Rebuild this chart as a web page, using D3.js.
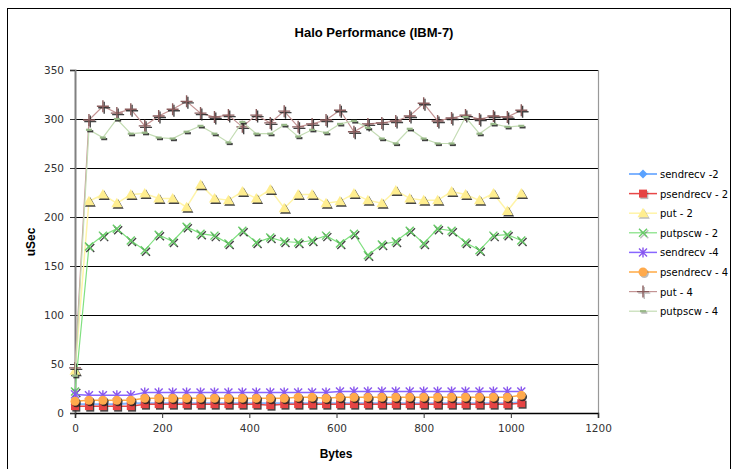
<!DOCTYPE html>
<html><head><meta charset="utf-8">
<script src="https://cdn.jsdelivr.net/npm/d3@7/dist/d3.min.js"></script>
<style>body{margin:0;background:#fff}svg{display:block}</style>
</head><body><svg id="c" width="740" height="469"></svg>
<script>
const bytes = [0,32,64,96,128,160,192,224,256,288,320,352,384,416,448,480,512,544,576,608,640,672,704,736,768,800,832,864,896,928,960,992,1024];
const sendrecv2  = [9,9,9,9,10,10,10,10,10,10,10,10,10,10,10,10,10,10,10,10,10,10,10,10,10,10,10,10,10,10,10,10,11];
const psendrecv2 = [7,7,7,7,7,9,9,9,9,9,9,9,9,9,8,9,9,9,9,9,9,9,9,9,9,9,9,9,9,9,9,9,10];
const put2       = [43,216,223,214,223,224,219,219,210,233,219,217,226,219,228,209,223,223,214,216,224,217,214,227,219,217,217,226,223,217,224,206,224];
const putpscw2   = [22,170,181,188,176,166,182,175,190,183,181,173,186,174,179,175,174,176,181,173,183,161,172,175,186,173,188,186,174,166,181,182,176];
const sendrecv4  = [19,18,18,18,18,21,21,21,21,21,21,21,21,21,21,21,21,21,21,22,22,22,22,22,22,22,22,22,22,22,22,22,22];
const psendrecv4 = [12,13,13,13,13,15,15,15,15,15,15,15,15,15,15,15,16,16,15,16,16,16,16,16,16,16,16,16,16,16,16,16,18];
const put4       = [46,299,313,306,310,293,303,310,318,306,302,304,292,304,296,308,292,295,299,309,287,295,296,298,303,316,298,301,304,300,303,302,309];
const putpscw4   = [38,289,281,300,285,286,281,280,287,293,285,276,297,285,285,294,282,289,286,295,298,291,280,275,290,280,275,275,302,285,295,292,293];
const seriesNames = ["sendrecv -2","psendrecv - 2","put - 2","putpscw - 2","sendrecv -4","psendrecv - 4","put - 4","putpscw - 4"];
const yTicks = [0,50,100,150,200,250,300,350];
const xTicks = [0,200,400,600,800,1000,1200];

const seriesData = [sendrecv2, psendrecv2, put2, putpscw2, sendrecv4, psendrecv4, put4, putpscw4];
const styles = [
  {line:"#80b4ff", fill:"#5aa2ff", stroke:"none", shape:"diamond", shadow:false, lw:2},
  {line:"#e84848", fill:"#e64444", stroke:"none", shape:"square", shadow:true, lw:1.5},
  {line:"#fff4a8", fill:"#ffee90", stroke:"none", shape:"triangle", shadow:true, lw:1.5},
  {line:"#80e080", fill:"none", stroke:"#66cc66", shape:"x", shadow:true, lw:1.2},
  {line:"#8866ff", fill:"none", stroke:"#8855ee", shape:"asterisk", shadow:false, lw:1.5},
  {line:"#ffaa44", fill:"#ffaa4c", stroke:"none", shape:"circle", shadow:true, lw:1.5},
  {line:"#c49494", fill:"none", stroke:"#8a5c5c", shape:"plus", shadow:true, lw:1.2},
  {line:"#c4dcb4", fill:"none", stroke:"#98b888", shape:"dash", shadow:true, lw:1.2}
];
const shapes = {
  diamond:"M0,-4.5L4.5,0L0,4.5L-4.5,0Z",
  square:"M-4,-4H4V4H-4Z",
  triangle:"M0,-5.5L5.5,4L-5.5,4Z",
  x:"M-4,-4L4,4M-4,4L4,-4",
  asterisk:"M-4,-4L4,4M-4,4L4,-4M0,-5L0,5",
  circle:"M4.5,0A4.5,4.5 0 1,1 -4.5,0A4.5,4.5 0 1,1 4.5,0Z",
  plus:"M-6,0H6M0,-6V6",
  dash:"M-3,0H3"
};

const svg = d3.select("#c");
const L=75, R=598, T=70, B=413;
const x = d3.scaleLinear().domain([0,1200]).range([L,R]);
const y = d3.scaleLinear().domain([0,350]).range([B,T]);

svg.append("rect").attr("x",7.5).attr("y",8.5).attr("width",723).attr("height",470)
  .attr("fill","#fff").attr("stroke","#000").attr("stroke-width",1);

// gridlines
svg.append("g").selectAll("line").data(yTicks.filter(d=>d>0)).join("line")
  .attr("x1",L).attr("x2",R).attr("y1",d=>Math.round(y(d))+0.5).attr("y2",d=>Math.round(y(d))+0.5)
  .attr("stroke","#000").attr("stroke-width",1);
// right border
svg.append("line").attr("x1",R+0.5).attr("x2",R+0.5).attr("y1",T).attr("y2",B).attr("stroke","#999").attr("stroke-width",1.2);

// axes
const yAxis = d3.axisLeft(y).tickValues(yTicks).tickSize(5).tickPadding(6).tickFormat(d3.format("d"));
const gy = svg.append("g").attr("transform",`translate(${L},0)`).call(yAxis);
gy.select(".domain").attr("stroke","#808080").attr("stroke-width",2);
gy.selectAll(".tick line").attr("stroke","#333");
gy.selectAll("text").attr("font-family","DejaVu Sans").attr("font-size","10.5px").attr("fill","#333");

const xAxis = d3.axisBottom(x).tickValues(xTicks).tickSize(5).tickPadding(7).tickFormat(d3.format("d"));
const gx = svg.append("g").attr("transform",`translate(0,${B})`).call(xAxis);
gx.select(".domain").attr("stroke","#000").attr("stroke-width",1.5);
gx.selectAll(".tick line").attr("stroke","#333");
gx.selectAll("text").attr("font-family","DejaVu Sans").attr("font-size","10.5px").attr("fill","#333");

// series
const lineGen = d3.line().x((d,i)=>x(bytes[i])).y(d=>y(d));
seriesData.forEach((vals,si)=>{
  const st = styles[si];
  const g = svg.append("g");
  g.append("path").attr("d",lineGen(vals)).attr("fill","none").attr("stroke",st.line).attr("stroke-width",st.lw);
  const isStroke = st.fill==="none";
  if(st.shadow){
    g.append("g").selectAll("path").data(vals).join("path")
      .attr("transform",(d,i)=>`translate(${x(bytes[i])+1.3},${y(d)+1.5})`)
      .attr("d",shapes[st.shape])
      .attr("fill",isStroke?"none":"#222").attr("stroke",isStroke?"#222":"none")
      .attr("stroke-width",st.shape==="dash"?2.2:1.4).attr("opacity",0.85);
  }
  g.append("g").selectAll("path").data(vals).join("path")
    .attr("transform",(d,i)=>`translate(${x(bytes[i])},${y(d)})`)
    .attr("d",shapes[st.shape])
    .attr("fill",st.fill).attr("stroke",st.stroke)
    .attr("stroke-width",st.shape==="dash"?2.2:1.4);
});

// title & axis titles
svg.append("text").attr("x",374).attr("y",37).attr("text-anchor","middle")
  .attr("font-family","Liberation Sans, Arial").attr("font-weight","bold").attr("font-size","13px").text("Halo Performance (IBM-7)");
svg.append("text").attr("transform","translate(35,242) rotate(-90)").attr("text-anchor","middle")
  .attr("font-family","Liberation Sans, Arial").attr("font-weight","bold").attr("font-size","12px").text("uSec");
svg.append("text").attr("x",336).attr("y",458).attr("text-anchor","middle")
  .attr("font-family","Liberation Sans, Arial").attr("font-weight","bold").attr("font-size","12px").text("Bytes");

// legend
const lg = svg.append("g");
seriesNames.forEach((name,i)=>{
  const st = styles[i];
  const yy = 174 + i*19.6;
  lg.append("line").attr("x1",629).attr("x2",657).attr("y1",yy).attr("y2",yy).attr("stroke",st.line).attr("stroke-width",st.lw);
  const isStroke = st.fill==="none";
  if(st.shadow){
    lg.append("path").attr("transform",`translate(${643+1.3},${yy+1.5})`).attr("d",shapes[st.shape])
      .attr("fill",isStroke?"none":"#222").attr("stroke",isStroke?"#222":"none").attr("stroke-width",st.shape==="dash"?2.2:1.4).attr("opacity",0.3);
  }
  lg.append("path").attr("transform",`translate(643,${yy})`).attr("d",shapes[st.shape])
    .attr("fill",st.fill).attr("stroke",st.stroke).attr("stroke-width",st.shape==="dash"?2.2:1.4);
  lg.append("text").attr("x",660).attr("y",yy+4).attr("font-family","DejaVu Sans").attr("font-size","10px").attr("fill","#000").text(name);
});
</script></body></html>
